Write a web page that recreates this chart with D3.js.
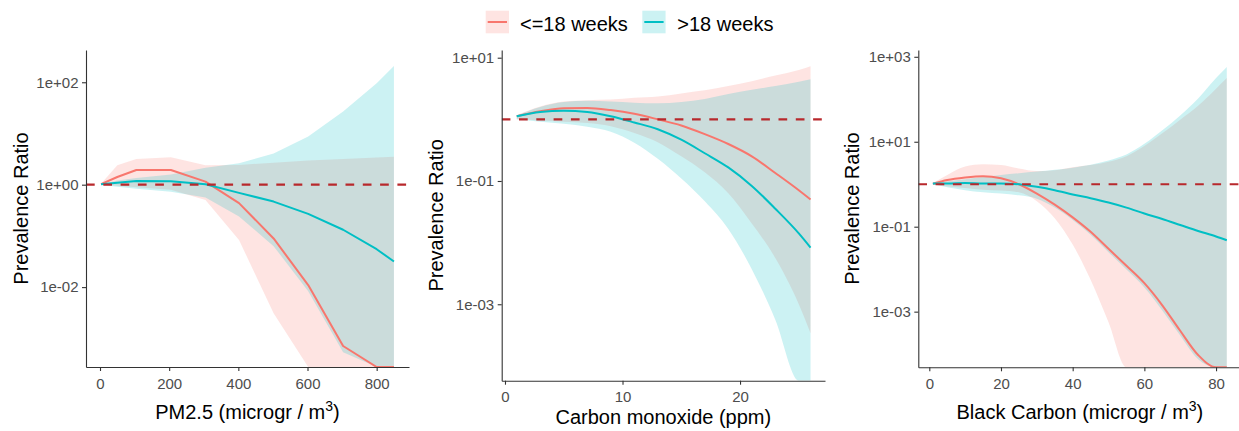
<!DOCTYPE html>
<html><head><meta charset="utf-8">
<script src="https://cdn.jsdelivr.net/npm/d3@7"></script>
<style>
body{margin:0;background:#fff;}
svg{display:block;}
text{font-family:"Liberation Sans",Arial,sans-serif;}
</style>
</head><body>
<svg id="chart" width="1239" height="431"></svg>
<script>
// ---- Data (values are log10 of the prevalence ratio) ----
const seriesNames = ["<=18 weeks", ">18 weeks"];
const seriesColors = ["#F8766D", "#00BFC4"];

// PM2.5
const pmX        = [3, 50, 105, 205, 305, 402, 502, 602, 703, 800, 850];
const pmShortFit = [0.01, 0.15, 0.287, 0.287, 0.06, -0.36, -1.05, -1.96, -3.15, -3.62, -3.9];
const pmShortHi  = [0.02, 0.38, 0.5, 0.535, 0.38, 0.385, 0.43, 0.47, 0.5, 0.53, 0.545];
const pmShortLo  = [0.0, -0.02, -0.05, -0.1, -0.3, -1.08, -2.51, -3.65, -5.0, -6.0, -6.5];
const pmLongFit  = [0.01, 0.04, 0.072, 0.065, 0.01, -0.16, -0.33, -0.57, -0.88, -1.26, -1.5];
const pmLongHi   = [0.01, 0.08, 0.13, 0.2, 0.33, 0.42, 0.61, 0.94, 1.43, 1.98, 2.32];
const pmLongLo   = [0.0, -0.04, -0.08, -0.14, -0.25, -0.62, -1.2, -2.08, -3.27, -3.7, -3.8];

// Carbon monoxide
const coX        = [1, 3, 5, 7, 9, 11, 13, 15, 17, 19, 21, 23, 25, 26];
const coShortFit = [0.05, 0.13, 0.18, 0.185, 0.15, 0.09, 0.0, -0.1, -0.24, -0.4, -0.6, -0.87, -1.15, -1.3];
const coShortHi  = [0.07, 0.21, 0.29, 0.31, 0.32, 0.35, 0.37, 0.42, 0.47, 0.54, 0.62, 0.71, 0.8, 0.86];
const coShortLo  = [0.0, -0.02, -0.04, -0.06, -0.11, -0.22, -0.37, -0.6, -0.86, -1.2, -1.69, -2.25, -3.0, -3.47];
const coLongFit  = [0.05, 0.12, 0.14, 0.12, 0.05, -0.05, -0.16, -0.33, -0.55, -0.78, -1.08, -1.45, -1.85, -2.08];
const coLongHi   = [0.06, 0.2, 0.28, 0.3, 0.29, 0.27, 0.26, 0.28, 0.33, 0.41, 0.48, 0.54, 0.61, 0.65];
const coLongLo   = [0.0, -0.04, -0.07, -0.12, -0.2, -0.38, -0.64, -0.96, -1.33, -1.78, -2.43, -3.25, -4.3, -4.8];

// Black carbon
const bcX        = [1, 5, 10, 15, 20, 25, 30, 35, 40, 45, 50, 55, 60, 65, 70, 75, 80, 83];
const bcShortFit = [0.01, 0.1, 0.16, 0.19, 0.14, 0.0, -0.22, -0.48, -0.78, -1.12, -1.52, -1.92, -2.33, -2.85, -3.45, -4.02, -4.35, -4.6];
const bcShortHi  = [0.03, 0.22, 0.42, 0.47, 0.45, 0.37, 0.31, 0.33, 0.4, 0.45, 0.53, 0.66, 0.9, 1.2, 1.52, 1.85, 2.25, 2.5];
const bcShortLo  = [0.0, -0.05, -0.09, -0.13, -0.15, -0.19, -0.4, -0.8, -1.42, -2.25, -3.25, -4.45, -5.3, -6.0, -6.6, -7.2, -7.8, -8.1];
const bcLongFit  = [0.02, 0.02, 0.03, 0.02, 0.02, 0.0, -0.06, -0.14, -0.24, -0.33, -0.43, -0.55, -0.69, -0.82, -0.96, -1.1, -1.23, -1.32];
const bcLongHi   = [0.03, 0.07, 0.12, 0.17, 0.22, 0.26, 0.3, 0.34, 0.39, 0.46, 0.56, 0.7, 0.95, 1.27, 1.62, 2.02, 2.5, 2.76];
const bcLongLo   = [0.0, -0.07, -0.14, -0.19, -0.22, -0.26, -0.34, -0.55, -0.84, -1.19, -1.6, -2.01, -2.43, -2.97, -3.56, -4.12, -4.42, -4.5];

// Ticks
const pmXTicks = [0, 200, 400, 600, 800];
const coXTicks = [0, 10, 20];
const bcXTicks = [0, 20, 40, 60, 80];
const pmYTicks = [100, 1, 0.01];
const coYTicks = [10, 0.1, 0.001];
const bcYTicks = [1000, 10, 0.1, 0.001];
const pmYLabels = ["1e+02", "1e+00", "1e-02"];
const coYLabels = ["1e+01", "1e-01", "1e-03"];
const bcYLabels = ["1e+03", "1e+01", "1e-01", "1e-03"];
const refValue = 1;

// ---- Layout ----
const panels = [
  {x: pmX, s: [[pmShortFit, pmShortLo, pmShortHi], [pmLongFit, pmLongLo, pmLongHi]],
   xDom: [-40.5, 893.5], yDomExp: [-3.56, 2.63], L: 86, R: 409, T: 50, B: 367,
   xTicks: pmXTicks, yTicks: pmYTicks, yLabels: pmYLabels, curve: d3.curveLinear,
   yTitleX: 27.5, xTitleY: 419, xTitle: "pm"},
  {x: coX, s: [[coShortFit, coShortLo, coShortHi], [coLongFit, coLongLo, coLongHi]],
   xDom: [-0.28, 27.23], yDomExp: [-4.24, 1.125], L: 501.7, R: 825, T: 50, B: 380.7,
   xTicks: coXTicks, yTicks: coYTicks, yLabels: coYLabels, curve: d3.curveMonotoneX,
   yTitleX: 443.3, xTitleY: 423.5, xTitle: "co"},
  {x: bcX, s: [[bcShortFit, bcShortLo, bcShortHi], [bcLongFit, bcLongLo, bcLongHi]],
   xDom: [-3.07, 87.1], yDomExp: [-4.31, 3.16], L: 918.3, R: 1241.5, T: 50, B: 367.3,
   xTicks: bcXTicks, yTicks: bcYTicks, yLabels: bcYLabels, curve: d3.curveMonotoneX,
   yTitleX: 859.3, xTitleY: 419, xTitle: "bc"}
];

const svg = d3.select("#chart");
const defs = svg.append("defs");

panels.forEach((p, i) => {
  const x = d3.scaleLinear().domain(p.xDom).range([p.L, p.R]);
  const y = d3.scaleLog().domain([Math.pow(10, p.yDomExp[0]), Math.pow(10, p.yDomExp[1])])
              .range([p.B, p.T]).clamp(true);
  const g = svg.append("g");
  defs.append("clipPath").attr("id", "clip" + i)
    .append("rect").attr("x", p.L).attr("y", p.T).attr("width", p.R - p.L).attr("height", p.B - p.T);
  const plot = g.append("g").attr("clip-path", `url(#clip${i})`);

  const rows = p.s.map(([fit, lo, hi]) => p.x.map((xv, k) => ({x: xv, fit: Math.pow(10, fit[k]), lo: Math.pow(10, lo[k]), hi: Math.pow(10, hi[k])})));

  const area = d3.area().curve(p.curve).x(d => x(d.x)).y0(d => y(d.lo)).y1(d => y(d.hi));
  const line = d3.line().curve(p.curve).x(d => x(d.x)).y(d => y(d.fit));

  rows.forEach((r, j) => {
    plot.append("path").attr("d", area(r)).attr("fill", seriesColors[j]).attr("fill-opacity", 0.2);
  });
  rows.forEach((r, j) => {
    plot.append("path").attr("d", line(r)).attr("fill", "none").attr("stroke", seriesColors[j])
      .attr("stroke-width", 2).attr("stroke-linejoin", "round");
  });
  plot.append("line").attr("x1", p.L).attr("x2", p.R).attr("y1", y(refValue)).attr("y2", y(refValue))
    .attr("stroke", "#B8282C").attr("stroke-width", 2.2).attr("stroke-dasharray", "8.7,8.6");

  // axes
  const xAxis = d3.axisBottom(x).tickValues(p.xTicks).tickSize(4).tickSizeOuter(0).tickPadding(7);
  const yAxis = d3.axisLeft(y).tickValues(p.yTicks).tickFormat((d, k) => p.yLabels[k])
                  .tickSize(4).tickSizeOuter(0).tickPadding(3.5);
  const gx = g.append("g").attr("transform", `translate(0,${p.B})`).call(xAxis);
  const gy = g.append("g").attr("transform", `translate(${p.L},0)`).call(yAxis);
  [gx, gy].forEach(ax => {
    ax.select(".domain").attr("stroke", "#333").attr("stroke-width", 1.1);
    ax.selectAll(".tick line").attr("stroke", "#333").attr("stroke-width", 1.1);
    ax.selectAll(".tick text").attr("fill", "#4D4D4D").style("font-size", "15px")
      .style("font-family", '"Liberation Sans",Arial,sans-serif');
  });

  // titles
  g.append("text").attr("transform", `translate(${p.yTitleX},${(p.T + p.B) / 2}) rotate(-90)`)
    .attr("text-anchor", "middle").style("font-size", "20px").attr("fill", "#000").text("Prevalence Ratio");

  const cx = (p.L + Math.min(p.R, 1241.5)) / 2;
  const t = g.append("text").attr("x", cx).attr("y", p.xTitleY).attr("text-anchor", "middle")
    .style("font-size", "20px").attr("fill", "#000");
  if (p.xTitle === "co") {
    t.text("Carbon monoxide (ppm)");
  } else {
    t.append("tspan").text((p.xTitle === "pm" ? "PM2.5" : "Black Carbon") + " (microgr / m");
    t.append("tspan").attr("dy", -8).style("font-size", "14px").text("3");
    t.append("tspan").attr("dy", 8).text(")");
  }
});

// legend
const legendX = [485.7, 642.3];
const legendTextX = [520, 677.3];
seriesNames.forEach((name, j) => {
  const lg = svg.append("g");
  lg.append("rect").attr("x", legendX[j]).attr("y", 10.7).attr("width", 23.3).attr("height", 22.6)
    .attr("fill", seriesColors[j]).attr("fill-opacity", 0.2);
  lg.append("line").attr("x1", legendX[j] + 2).attr("x2", legendX[j] + 21.3).attr("y1", 22).attr("y2", 22)
    .attr("stroke", seriesColors[j]).attr("stroke-width", 2);
  lg.append("text").attr("x", legendTextX[j]).attr("y", 31).style("font-size", "20px").attr("fill", "#000").text(name);
});
</script>
</body></html>
